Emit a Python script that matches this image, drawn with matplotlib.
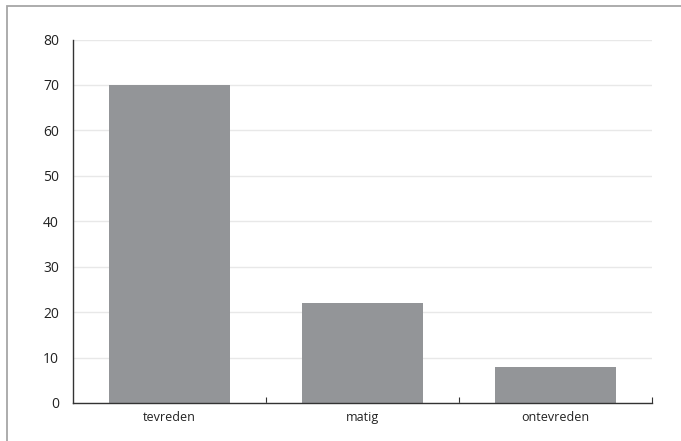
import matplotlib
matplotlib.use('Agg')
import matplotlib.pyplot as plt
from matplotlib.patches import Rectangle
import numpy as np

categories = ['tevreden', 'matig', 'ontevreden']
values = [70, 22, 8]
yticks = [0, 10, 20, 30, 40, 50, 60, 70, 80]

W, H = 681, 441
fig = plt.figure(figsize=(W / 100, H / 100), dpi=100)
plt.rcParams['font.family'] = ['Open Sans', 'DejaVu Sans']

# outer frame (cropped at right and bottom)
fig.patches.append(Rectangle((7 / W, -0.05), 1.2, 1 - 6 / H + 0.05,
                             transform=fig.transFigure, fill=False,
                             edgecolor='#a6a6a6', linewidth=1.3))

ax = fig.add_axes([73 / W, 1 - 403 / H, (652 - 73) / W, (403 - 39.5) / H])
x = np.arange(len(categories))
ax.bar(x, values, width=0.63, color='#939598', zorder=2)

ax.set_xlim(-0.5, len(categories) - 0.5)
ax.set_ylim(0, 80)
ax.set_yticks(yticks)
ax.yaxis.grid(True, color='#e8e8e8', linewidth=1, zorder=0)
ax.tick_params(axis='y', length=0, pad=10, labelsize=10, labelcolor='#222222')

ax.set_xticks(x + 0.5)
ax.set_xticklabels([])
ax.tick_params(axis='x', which='major', direction='in', length=4, color='#333333')
ax.set_xticks(x, minor=True)
ax.set_xticklabels(categories, minor=True)
ax.tick_params(axis='x', which='minor', length=0, pad=6, labelsize=9, labelcolor='#222222')

for s in ['top', 'right']:
    ax.spines[s].set_visible(False)
for s in ['left', 'bottom']:
    ax.spines[s].set_color('#333333')
    ax.spines[s].set_linewidth(1)

fig.savefig('out.png', dpi=100)
